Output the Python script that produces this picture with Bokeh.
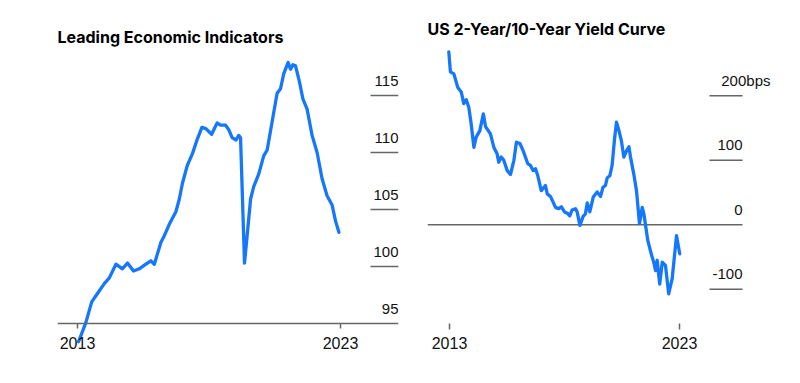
from bokeh.plotting import figure
from bokeh.layouts import row
from bokeh.models import (ColumnDataSource, LabelSet, LinearAxis, FixedTicker, Title)
from bokeh.core.properties import value
from bokeh.embed import file_html
from bokeh.resources import INLINE

# ---------------- data ----------------
lei_year = [2013.04, 2013.32, 2013.54, 2013.72, 2014.02, 2014.21, 2014.46, 2014.71,
            2014.90, 2015.13, 2015.35, 2015.60, 2015.79, 2015.92, 2016.17, 2016.30,
            2016.51, 2016.74, 2016.87, 2016.99, 2017.18, 2017.37, 2017.56, 2017.73,
            2017.88, 2018.10, 2018.31, 2018.44, 2018.63, 2018.75, 2018.88, 2019.03,
            2019.13, 2019.20, 2019.35, 2019.45, 2019.58, 2019.70, 2019.89, 2020.08,
            2020.21, 2020.40, 2020.59, 2020.72, 2020.84, 2021.01, 2021.10, 2021.19,
            2021.29, 2021.44, 2021.57, 2021.73, 2021.92, 2022.11, 2022.30, 2022.49,
            2022.68, 2022.81, 2022.94]
lei_value = [93.4, 95.1, 96.9, 97.5, 98.5, 99.0, 100.2, 99.8,
             100.3, 99.6, 99.8, 100.2, 100.5, 100.2, 102.1, 102.7,
             103.8, 104.8, 105.9, 107.3, 108.9, 109.9, 111.2, 112.2,
             112.1, 111.6, 112.6, 112.4, 112.4, 112.0, 111.3, 111.1,
             111.5, 111.3, 100.3, 102.7, 105.9, 107.0, 108.1, 109.7,
             110.2, 112.7, 115.2, 115.6, 116.9, 117.9, 117.3, 117.7,
             117.6, 116.2, 114.7, 113.8, 111.5, 110.0, 107.7, 106.2,
             105.4, 104.0, 103.0]
lei_ticks = [95, 100, 105, 110, 115]
lei_tick_labels = ["95", "100", "105", "110", "115"]

curve_year = [2012.97, 2013.04, 2013.19, 2013.36, 2013.51, 2013.62, 2013.73, 2013.84,
              2013.94, 2014.06, 2014.16, 2014.32, 2014.47, 2014.57, 2014.78, 2014.93,
              2015.07, 2015.14, 2015.25, 2015.36, 2015.51, 2015.65, 2015.80, 2015.91,
              2016.06, 2016.20, 2016.40, 2016.52, 2016.64, 2016.74, 2016.84, 2016.99,
              2017.17, 2017.25, 2017.39, 2017.61, 2017.75, 2017.86, 2018.00, 2018.12,
              2018.23, 2018.33, 2018.48, 2018.55, 2018.67, 2018.81, 2018.91, 2018.99,
              2019.10, 2019.25, 2019.42, 2019.57, 2019.67, 2019.78, 2019.86, 2019.97,
              2020.07, 2020.17, 2020.26, 2020.36, 2020.47, 2020.58, 2020.70, 2020.80,
              2020.87, 2021.01, 2021.13, 2021.26, 2021.38, 2021.45, 2021.62, 2021.77,
              2021.88, 2021.96, 2022.03, 2022.14, 2022.25, 2022.39, 2022.53, 2022.68,
              2022.87, 2023.01]
curve_bps = [268, 237, 234, 213, 206, 188, 194, 182,
             157, 120, 136, 146, 172, 152, 141, 120,
             110, 97, 105, 100, 84, 78, 100, 128,
             126, 115, 95, 92, 84, 87, 76, 53,
             61, 48, 44, 27, 25, 28, 20, 18,
             14, 23, 25, 20, -1, 13, 17, 34,
             20, 43, 51, 44, 58, 61, 73, 76,
             92, 131, 159, 147, 131, 105, 115, 121,
             105, 79, 53, 2, 27, 17, -24, -45,
             -58, -71, -55, -92, -58, -63, -107, -84,
             -17, -45]
curve_ticks = [-100, 0, 100, 200]
curve_tick_labels = ["-100", "0", "100", "200bps"]

year_ticks = [2013, 2023]

# ---------------- style ----------------
BLUE = "#1577fb"
GRAY = "#666666"
FONT = "Liberation Sans"
TITLE_FONT = "Inter"
FIG_H = 375
TOP = 48          # frame top (both plots share it)
BOTTOM = 20       # space under the frames


def base_fig(width, x_range, y_range, left, right):
    p = figure(width=width, height=FIG_H, output_backend="svg", toolbar_location=None,
               x_range=x_range, y_range=y_range,
               x_axis_location=None, y_axis_location=None,
               min_border_left=left, min_border_right=right,
               min_border_top=TOP, min_border_bottom=BOTTOM)
    p.outline_line_color = None
    p.xgrid.visible = False
    p.ygrid.visible = False
    p.background_fill_color = "white"
    p.border_fill_color = "white"
    return p


def make_title(text, standoff):
    return Title(text=text, text_font=TITLE_FONT, text_font_size="16px",
                 text_font_style="bold", text_color="#000000", align="left",
                 standoff=standoff, offset=0)


def year_axis(loc):
    ax = LinearAxis(ticker=FixedTicker(ticks=year_ticks, minor_ticks=[]),
                    fixed_location=loc)
    ax.major_tick_in = 0
    ax.major_tick_line_color = GRAY
    ax.major_tick_line_width = 1.5
    ax.minor_tick_line_color = None
    ax.major_label_text_font = FONT
    ax.major_label_text_font_size = "16px"
    ax.major_label_text_color = "#111111"
    return ax


def tick_labels(p, xs, ys, texts, dxs):
    src = ColumnDataSource(dict(x=xs, y=ys, text=texts, dx=dxs))
    p.add_layout(LabelSet(x="x", y="y", text="text", source=src, text_align="right",
                          text_baseline="alphabetic", x_offset="dx", y_offset=10,
                          text_font=value(FONT), text_font_size=value("15px"),
                          text_color="#111111"))


# ---------------- left: Leading Economic Indicators ----------------
L_PX = 26.3        # px per year   (2013 tick at page x 77)
L_UNIT = 11.4      # px per point  (95 at page y 323)
x1_range = (2013 - 20 / L_PX, 2023 + 58 / L_PX)
y1_range = (95 - (FIG_H - BOTTOM - 323) / L_UNIT, 95 + (323 - TOP) / L_UNIT)
p1 = base_fig(408, x1_range, y1_range, 57, 10)
p1.title = make_title("Leading Economic Indicators", 4)

ax1 = year_axis(lei_ticks[0])
ax1.axis_line_color = GRAY
ax1.axis_line_width = 1.5
ax1.major_tick_out = 5
ax1.major_label_standoff = 8
p1.add_layout(ax1, "below")

tick_x0_1 = x1_range[1] - 28 / L_PX
p1.segment(x0=tick_x0_1, x1=x1_range[1], y0=lei_ticks[1:], y1=lei_ticks[1:],
           line_color=GRAY, line_width=1.5)
tick_labels(p1, [x1_range[1]] * len(lei_ticks), lei_ticks, lei_tick_labels,
            [0] * len(lei_ticks))

p1.line(lei_year, lei_value, line_color=BLUE, line_width=3.3, line_join="round",
        line_cap="round")

# ---------------- right: US 2-Year/10-Year Yield Curve ----------------
R_PX = 23.0        # px per year   (2013 tick at page x 449)
R_UNIT = 0.645     # px per bp     (0 at page y 224.3)
ZERO_Y = 224.3
x2_range = (2013 - 22 / R_PX, 2023 + 96 / R_PX)
y2_range = (-(FIG_H - BOTTOM - ZERO_Y) / R_UNIT, (ZERO_Y - TOP) / R_UNIT)
x_lab2 = 2023 + 63 / R_PX          # right end of the value scale
p2 = base_fig(384, x2_range, y2_range, 19, 17)
p2.title = make_title("US 2-Year/10-Year Yield Curve", 19)

ax2 = year_axis(-(323 - ZERO_Y) / R_UNIT)
ax2.axis_line_color = None
ax2.major_tick_out = 6
ax2.major_label_standoff = 7
p2.add_layout(ax2, "below")

# zero line
p2.segment(x0=x2_range[0], x1=x_lab2, y0=0, y1=0, line_color=GRAY, line_width=1.5)

tick_x0_2 = x_lab2 - 33 / R_PX
ticks_no_zero = [t for t in curve_ticks if t != 0]
p2.segment(x0=tick_x0_2, x1=x_lab2, y0=ticks_no_zero, y1=ticks_no_zero,
           line_color=GRAY, line_width=1.5)
dx = [28 if lbl.endswith("bps") else 0 for lbl in curve_tick_labels]
tick_labels(p2, [x_lab2] * len(curve_ticks), curve_ticks, curve_tick_labels, dx)

p2.line(curve_year, curve_bps, line_color=BLUE, line_width=3.3, line_join="round",
        line_cap="round")

layout = row(p1, p2, spacing=0)
open("out.html", "w").write(file_html(layout, INLINE))
